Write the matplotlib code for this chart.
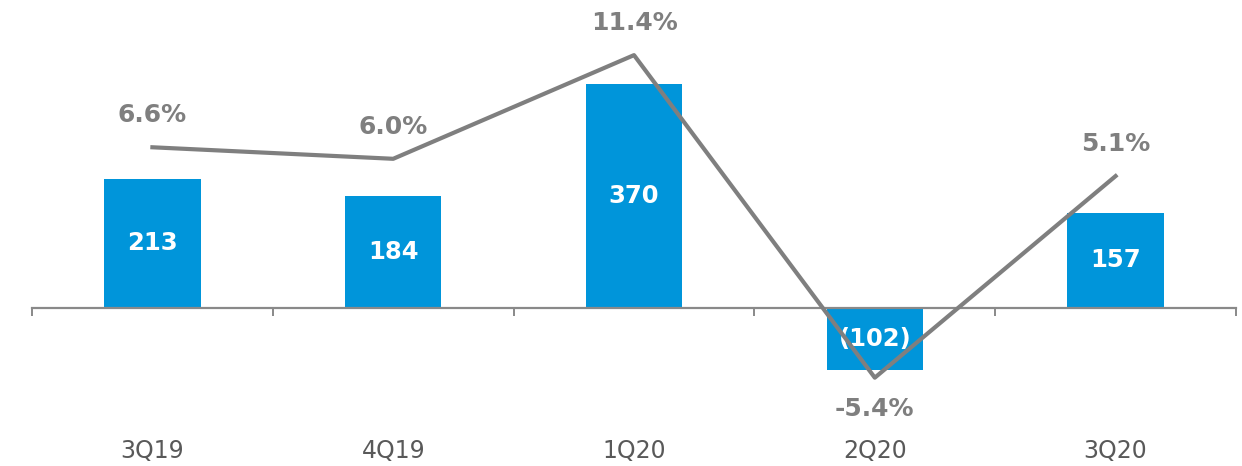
import matplotlib.pyplot as plt
import numpy as np

quarters = ['3Q19', '4Q19', '1Q20', '2Q20', '3Q20']
values = [213, 184, 370, -102, 157]
bar_labels = ['213', '184', '370', '(102)', '157']
margins = [6.6, 6.0, 11.4, -5.4, 5.1]

W, H = 1242, 466
fig = plt.figure(figsize=(W / 100, H / 100), dpi=100)
top_px, bot_px = 20, 420
ax = fig.add_axes([32 / W, 1 - bot_px / H, 1204 / W, (bot_px - top_px) / H])

x = np.arange(len(quarters))
ax.bar(x, values, width=0.4, color='#0095DA', zorder=1)
for xi, v, lab in zip(x, values, bar_labels):
    ax.text(xi, v / 2, lab, ha='center', va='center', color='white',
            fontsize=17.5, fontweight='bold', zorder=4)

# primary scale: zero at y=308 px, 0.606 px per unit
ax.set_ylim((308 - bot_px) / 0.606, (308 - top_px) / 0.606)
ax.set_xlim(-0.5, len(quarters) - 0.5)

for s in ['top', 'right', 'left']:
    ax.spines[s].set_visible(False)
ax.spines['bottom'].set_position(('data', 0))
ax.spines['bottom'].set_color('#898989')
ax.spines['bottom'].set_linewidth(1.6)
ax.set_yticks([])
ax.set_xticks(x)
ax.set_xticklabels(quarters, fontsize=17, color='#595959')
ax.tick_params(axis='x', which='major', length=0, pad=94)
ax.set_xticks(np.arange(-0.5, len(quarters)), minor=True)
ax.tick_params(axis='x', which='minor', length=6, width=1.4, color='#898989',
               direction='out')

# secondary scale: zero at y=274 px, 19.2 px per %
ax2 = ax.twinx()
ax2.set_ylim((274 - bot_px) / 19.2, (274 - top_px) / 19.2)
ax2.plot(x, margins, color='#7F7F7F', linewidth=3, zorder=3)
ax2.axis('off')
ax2.set_xlim(-0.5, len(quarters) - 0.5)
for xi, m in zip(x, margins):
    off = -22.5 if m < 0 else 23
    ax2.annotate(f'{m:.1f}%', (xi, m), xytext=(0, off), textcoords='offset points',
                 ha='center', va='center', color='#7F7F7F', fontsize=18,
                 fontweight='bold')

fig.savefig('out.png', dpi=100)
